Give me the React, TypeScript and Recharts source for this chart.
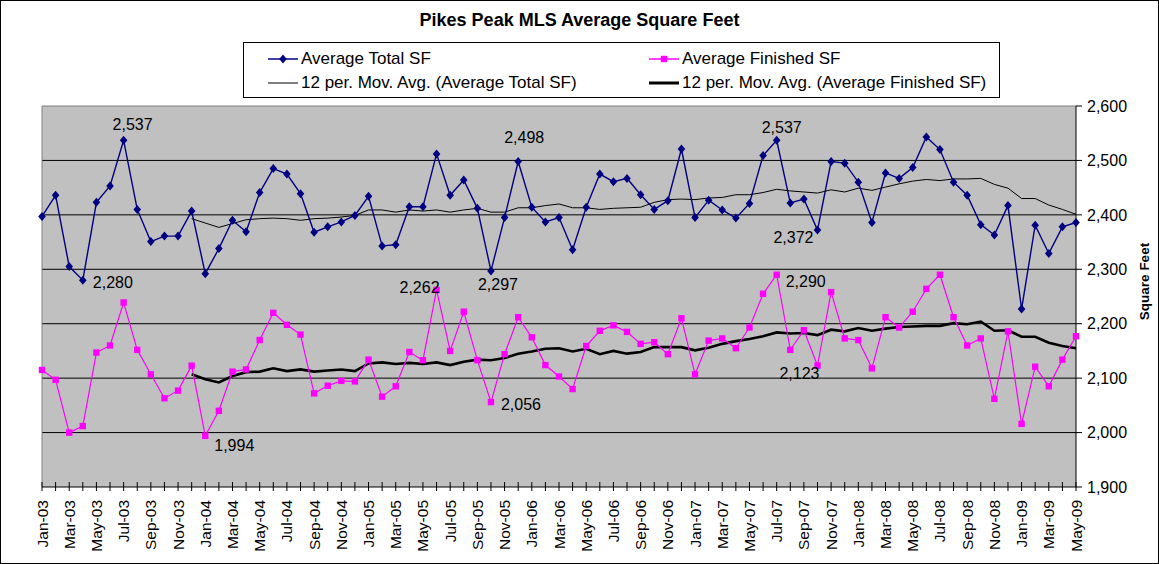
import React from "react";
import {
  LineChart,
  Line,
  XAxis,
  YAxis,
  CartesianGrid,
  LabelList,
  ReferenceLine,
} from "recharts";

const FONT = '"Liberation Sans", Arial, sans-serif';

const months = [
  "Jan-03", "Feb-03", "Mar-03", "Apr-03", "May-03", "Jun-03", "Jul-03", "Aug-03", "Sep-03", "Oct-03", "Nov-03", "Dec-03",
  "Jan-04", "Feb-04", "Mar-04", "Apr-04", "May-04", "Jun-04", "Jul-04", "Aug-04", "Sep-04", "Oct-04", "Nov-04", "Dec-04",
  "Jan-05", "Feb-05", "Mar-05", "Apr-05", "May-05", "Jun-05", "Jul-05", "Aug-05", "Sep-05", "Oct-05", "Nov-05", "Dec-05",
  "Jan-06", "Feb-06", "Mar-06", "Apr-06", "May-06", "Jun-06", "Jul-06", "Aug-06", "Sep-06", "Oct-06", "Nov-06", "Dec-06",
  "Jan-07", "Feb-07", "Mar-07", "Apr-07", "May-07", "Jun-07", "Jul-07", "Aug-07", "Sep-07", "Oct-07", "Nov-07", "Dec-07",
  "Jan-08", "Feb-08", "Mar-08", "Apr-08", "May-08", "Jun-08", "Jul-08", "Aug-08", "Sep-08", "Oct-08", "Nov-08", "Dec-08",
  "Jan-09", "Feb-09", "Mar-09", "Apr-09", "May-09",
];

const totalSF = [
  2397, 2436, 2305, 2280, 2423, 2453, 2537, 2410, 2351, 2361, 2361, 2407,
  2292, 2338, 2390, 2369, 2441, 2485, 2475, 2439, 2368, 2378, 2387, 2399,
  2434, 2343, 2345, 2415, 2415, 2512, 2436, 2464, 2412, 2297, 2395, 2498,
  2414, 2387, 2395, 2336, 2414, 2475, 2461, 2467, 2437, 2410, 2426, 2521,
  2395, 2427, 2409, 2394, 2421, 2509, 2537, 2422, 2429, 2372, 2498, 2495,
  2460, 2386, 2477, 2467, 2487, 2543, 2520, 2460, 2436, 2382, 2363, 2417,
  2227, 2381, 2329, 2378, 2386,
];

const finishedSF = [
  2115, 2097, 2000, 2012, 2147, 2160, 2239, 2152, 2107, 2063, 2077, 2123,
  1994, 2040, 2112, 2116, 2170, 2220, 2198, 2180, 2072, 2086, 2095, 2094,
  2134, 2066, 2085, 2148, 2133, 2262, 2150, 2222, 2133, 2056, 2144, 2212,
  2175, 2124, 2103, 2080, 2159, 2187, 2197, 2185, 2163, 2166, 2144, 2210,
  2107, 2169, 2173, 2155, 2193, 2255, 2290, 2152, 2188, 2123, 2258, 2173,
  2170, 2118, 2212, 2193, 2222, 2264, 2290, 2212, 2160, 2173, 2062, 2186,
  2016, 2121, 2085, 2134, 2177,
];

// 12 period moving averages, read from the trendlines
const maTotalSF = [
  null, null, null, null, null, null, null, null, null, null, null, 2393,
  2385, 2377, 2384, 2391, 2393, 2394, 2393, 2390, 2393, 2394, 2396, 2399,
  2409, 2409, 2405, 2409, 2407, 2409, 2405, 2409, 2412, 2405, 2405, 2413,
  2413, 2417, 2420, 2413, 2413, 2410, 2412, 2413, 2414, 2423, 2428, 2429,
  2428, 2431, 2432, 2437, 2437, 2441, 2447, 2444, 2442, 2440, 2446, 2442,
  2449, 2445, 2451, 2457, 2462, 2465, 2463, 2466, 2466, 2467, 2456, 2449,
  2430, 2430, 2418, 2410, 2401,
];

const maFinishedSF = [
  null, null, null, null, null, null, null, null, null, null, null, 2107,
  2098, 2092, 2104, 2111, 2112, 2118, 2113, 2116, 2112, 2114, 2116, 2113,
  2127, 2129, 2126, 2128, 2126, 2129, 2124, 2130, 2134, 2133, 2137, 2145,
  2149, 2154, 2155, 2149, 2154, 2144, 2150, 2145, 2148, 2157, 2157, 2157,
  2151, 2156, 2163, 2168, 2172, 2177, 2184, 2182, 2183, 2179, 2189, 2186,
  2192, 2187, 2191, 2194, 2195, 2196, 2196, 2201, 2199, 2204, 2187, 2188,
  2176, 2176, 2165, 2159, 2155,
];

const yTicks = [1900, 2000, 2100, 2200, 2300, 2400, 2500, 2600];

const data = months.map((m, i) => ({
  month: m,
  total: totalSF[i],
  finished: finishedSF[i],
  maTotal: maTotalSF[i],
  maFinished: maFinishedSF[i],
}));

// which points carry a value label, and where the label sits
type Place = { dx: number; dy: number; anchor: "start" | "middle" | "end" };
const totalLabels: Record<number, Place> = {
  3: { dx: 10, dy: 2, anchor: "start" },
  6: { dx: 9, dy: -16, anchor: "middle" },
  33: { dx: 7, dy: 14, anchor: "middle" },
  35: { dx: 6, dy: -24, anchor: "middle" },
  54: { dx: 5, dy: -13, anchor: "middle" },
  57: { dx: -4, dy: 7, anchor: "end" },
};
const finishedLabels: Record<number, Place> = {
  12: { dx: 9, dy: 10, anchor: "start" },
  29: { dx: 3, dy: -2, anchor: "end" },
  33: { dx: 10, dy: 2, anchor: "start" },
  54: { dx: 9, dy: 7, anchor: "start" },
  57: { dx: 2, dy: 8, anchor: "end" },
};

const fmt = (v: number) => v.toLocaleString("en-US");

const valueLabel = (places: Record<number, Place>) => (props: any) => {
  const { x, y, value, index } = props;
  const p = places[index];
  if (!p) return null;
  return (
    <text
      x={x + p.dx}
      y={y + p.dy}
      textAnchor={p.anchor}
      dominantBaseline="central"
      fontSize={16}
      fontFamily={FONT}
      fill="#000"
    >
      {fmt(value)}
    </text>
  );
};

const Diamond = (props: any) => {
  const { cx, cy, index } = props;
  if (cx == null || cy == null) return <g key={`dm${index}`} />;
  return (
    <polygon
      key={`dm${index}`}
      points={`${cx},${cy - 4.5} ${cx + 3.8},${cy} ${cx},${cy + 4.5} ${cx - 3.8},${cy}`}
      fill="#000080"
    />
  );
};

const Square = (props: any) => {
  const { cx, cy, index } = props;
  if (cx == null || cy == null) return <g key={`sq${index}`} />;
  return <rect key={`sq${index}`} x={cx - 3.2} y={cy - 3.2} width={6.4} height={6.4} fill="#FF00FF" />;
};

// every month gets a tick crossing the axis, every other month a label
const MonthTick = (props: any) => {
  const { x, y, payload } = props;
  return (
    <g>
      <line x1={x} y1={y - 5} x2={x} y2={y + 4} stroke="#000" strokeWidth={1} />
      {payload.index % 2 === 0 && (
        <text
          transform={`translate(${x + 5.5},${y + 13}) rotate(-90)`}
          textAnchor="end"
          fontSize={15.5}
          fontFamily={FONT}
          fill="#000"
        >
          {payload.value}
        </text>
      )}
    </g>
  );
};

const LegendIcon = ({ color, width, marker }: { color: string; width: number; marker?: "diamond" | "square" }) => (
  <svg width={32} height={12} style={{ display: "block" }}>
    <line x1={1} y1={6} x2={31} y2={6} stroke={color} strokeWidth={width} />
    {marker === "diamond" && <polygon points="16,1.5 19.8,6 16,10.5 12.2,6" fill={color} />}
    {marker === "square" && <rect x={12.8} y={2.8} width={6.4} height={6.4} fill={color} />}
  </svg>
);

const legendItems = [
  { label: "Average Total SF", color: "#000080", width: 1.5, marker: "diamond" as const, left: 23, top: 7 },
  { label: "Average Finished SF", color: "#FF00FF", width: 1.5, marker: "square" as const, left: 404, top: 7 },
  { label: "12 per. Mov. Avg. (Average Total SF)", color: "#555", width: 1.5, left: 23, top: 31 },
  { label: "12 per. Mov. Avg. (Average Finished SF)", color: "#000", width: 3, left: 404, top: 31 },
];

export default function App() {
  return (
    <div
      style={{
        position: "absolute",
        left: 0,
        top: 0,
        width: 1159,
        height: 564,
        boxSizing: "border-box",
        border: "1px solid #000",
        background: "#fff",
        fontFamily: FONT,
      }}
    >
      <div
        style={{
          position: "absolute",
          left: 0,
          top: 9,
          width: 1157,
          textAlign: "center",
          fontWeight: "bold",
          fontSize: 18,
        }}
      >
        Pikes Peak MLS Average Square Feet
      </div>

      <div
        style={{
          position: "absolute",
          left: 242,
          top: 41,
          width: 757,
          height: 56,
          boxSizing: "border-box",
          border: "1px solid #000",
          background: "#fff",
        }}
      >
        {legendItems.map((it) => (
          <div
            key={it.label}
            style={{
              position: "absolute",
              left: it.left,
              top: it.top,
              display: "flex",
              alignItems: "center",
              fontSize: 17,
              whiteSpace: "nowrap",
              lineHeight: "18px",
            }}
          >
            <LegendIcon color={it.color} width={it.width} marker={it.marker} />
            <span style={{ marginLeft: 2 }}>{it.label}</span>
          </div>
        ))}
      </div>

      <LineChart
        width={1157}
        height={562}
        data={data}
        margin={{ top: 105, right: 0, left: 41, bottom: 0 }}
        style={{ position: "absolute", left: 0, top: 0 }}
      >
        <CartesianGrid
          vertical={false}
          fill="#C0C0C0"
          stroke="#000"
          strokeWidth={1}
          horizontalValues={[2000, 2100, 2200, 2300, 2400, 2500]}
        />
        <ReferenceLine y={2600} stroke="#808080" />
        <ReferenceLine x="Jan-03" stroke="#808080" />
        <XAxis
          dataKey="month"
          scale="point"
          padding={{ left: 0, right: 0 }}
          interval={0}
          tick={<MonthTick />}
          tickLine={false}
          tickSize={0}
          tickMargin={0}
          stroke="#000"
          height={76}
        />
        <YAxis
          orientation="right"
          domain={[1900, 2600]}
          ticks={yTicks}
          tickFormatter={fmt}
          tick={{ fontSize: 16, fill: "#000", fontFamily: FONT }}
          tickSize={6}
          tickMargin={5}
          stroke="#000"
          width={82}
          label={{
            value: "Square Feet",
            angle: -90,
            position: "insideRight",
            dx: -9,
            dy: -15,
            style: { fontWeight: "bold", fontSize: 13.5, fill: "#000", fontFamily: FONT, textAnchor: "middle" },
          }}
        />
        <Line
          dataKey="maTotal"
          stroke="#000"
          strokeWidth={1}
          dot={false}
          connectNulls={false}
          isAnimationActive={false}
        />
        <Line
          dataKey="maFinished"
          stroke="#000"
          strokeWidth={2.6}
          dot={false}
          connectNulls={false}
          isAnimationActive={false}
        />
        <Line
          dataKey="total"
          stroke="#000080"
          strokeWidth={1.4}
          dot={Diamond}
          isAnimationActive={false}
        >
          <LabelList dataKey="total" content={valueLabel(totalLabels)} />
        </Line>
        <Line
          dataKey="finished"
          stroke="#FF00FF"
          strokeWidth={1.2}
          dot={Square}
          isAnimationActive={false}
        >
          <LabelList dataKey="finished" content={valueLabel(finishedLabels)} />
        </Line>
      </LineChart>
    </div>
  );
}
